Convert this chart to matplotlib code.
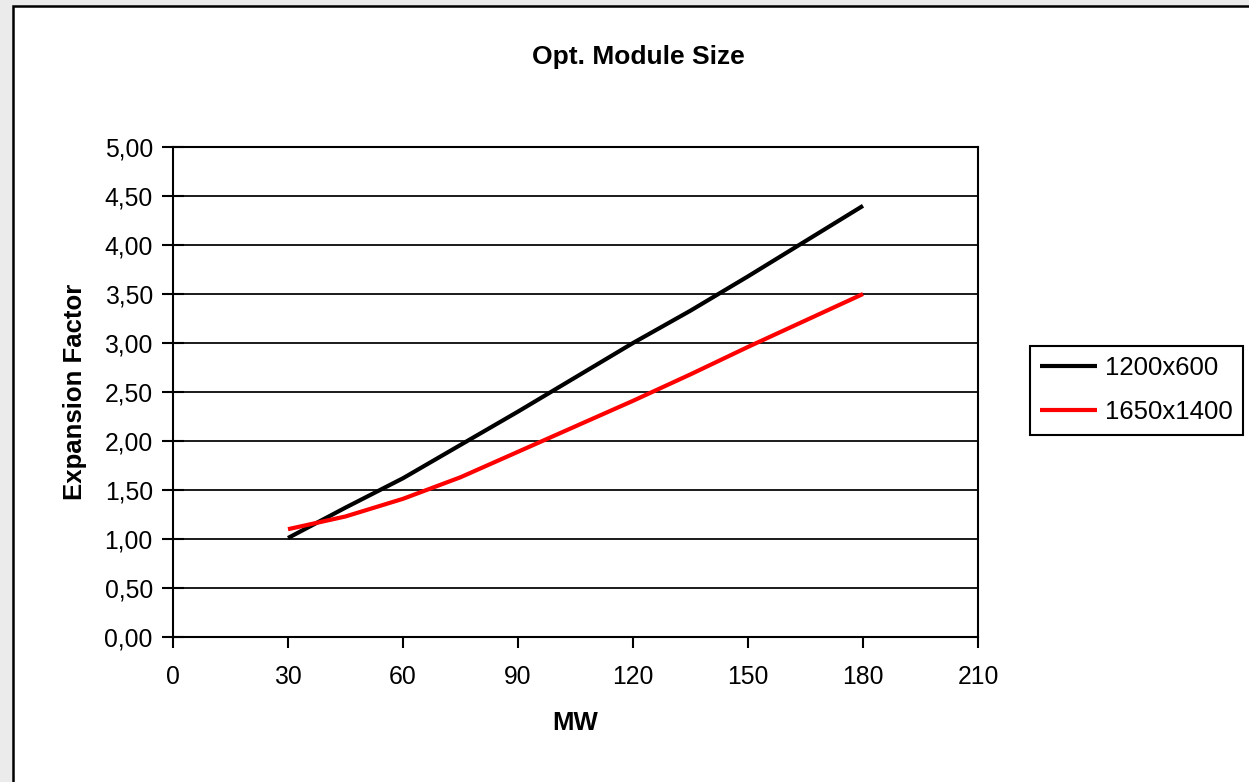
import matplotlib
matplotlib.use("Agg")
import matplotlib.pyplot as plt
from matplotlib.patches import Rectangle
from matplotlib.ticker import FuncFormatter

# ---- data ----
mw = [30, 45, 60, 75, 90, 105, 120, 135, 150, 165, 180]
series_1200x600 = [1.01, 1.32, 1.62, 1.96, 2.30, 2.65, 3.00, 3.33, 3.68, 4.04, 4.40]
series_1650x1400 = [1.10, 1.23, 1.41, 1.63, 1.89, 2.15, 2.41, 2.68, 2.96, 3.23, 3.50]
series_names = ["1200x600", "1650x1400"]
x_ticks = [0, 30, 60, 90, 120, 150, 180, 210]
y_ticks = [0, 0.5, 1, 1.5, 2, 2.5, 3, 3.5, 4, 4.5, 5]
title = "Opt. Module Size"
x_label = "MW"
y_label = "Expansion Factor"

W, H = 1249, 782
plt.rcParams['font.family'] = ['Liberation Sans', 'DejaVu Sans']
fig = plt.figure(figsize=(W / 100, H / 100), dpi=100)
fig.patch.set_facecolor('#ebebeb')

# chart area (white with black border) as a background axes
bg = fig.add_axes([0, 0, 1, 1], zorder=-10)
bg.set_xlim(0, W)
bg.set_ylim(H, 0)
bg.axis('off')
bg.add_patch(Rectangle((13, 6), 1400, 1000, facecolor='white',
                       edgecolor='black', linewidth=1.8))

ax = fig.add_axes([173 / W, 1 - 637 / H, 805 / W, 490 / H], zorder=1)
ax.set_facecolor('white')
ax.set_xlim(0, 210)
ax.set_ylim(0, 5)
ax.set_xticks(x_ticks)
ax.set_yticks(y_ticks)
ax.yaxis.set_major_formatter(FuncFormatter(lambda v, p: f"{v:.2f}".replace('.', ',')))
ax.grid(axis='y', color='#1a1a1a', linewidth=1.4)
ax.set_axisbelow(True)
for s in ax.spines.values():
    s.set_linewidth(1.5)
    s.set_color('black')

ax.tick_params(axis='y', direction='inout', length=16, width=1.5, pad=6.5,
               labelsize=17.8)
ax.tick_params(axis='x', direction='out', length=8, width=1.5, pad=12,
               labelsize=17.8)

l1, = ax.plot(mw, series_1200x600, color='black', linewidth=3, label=series_names[0],
              solid_capstyle='butt')
l2, = ax.plot(mw, series_1650x1400, color='#ff0000', linewidth=3, label=series_names[1],
              solid_capstyle='butt')

fig.text(638 / W, 1 - 57 / H, title, ha='center', va='center',
         fontsize=19, fontweight='bold')
fig.text(575 / W, 1 - 723 / H, x_label, ha='center', va='center',
         fontsize=18.5, fontweight='bold')
fig.text(75 / W, 1 - 392 / H, y_label, ha='center', va='center', rotation=90,
         fontsize=18.5, fontweight='bold')

leg = ax.legend(handles=[l1, l2], loc='upper left',
                bbox_to_anchor=(1030 / W, 1 - 346 / H), bbox_transform=fig.transFigure,
                borderaxespad=0, fancybox=False, framealpha=1, edgecolor='black',
                fontsize=18.5, handlelength=2.2, handletextpad=0.31,
                borderpad=0.4, labelspacing=0.78)
leg.get_frame().set_linewidth(1.5)

fig.savefig('out.png', dpi=100, facecolor=fig.get_facecolor())
